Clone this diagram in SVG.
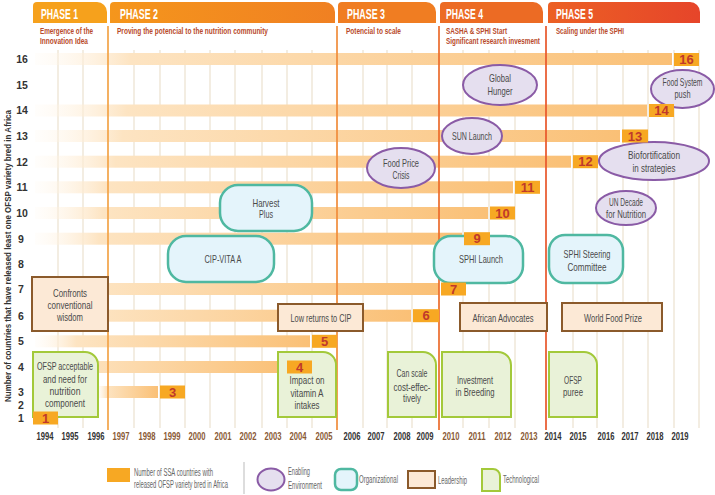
<svg xmlns="http://www.w3.org/2000/svg" width="715" height="495" viewBox="0 0 715 495">
<defs>
<style>
text{font-family:"Liberation Sans",Arial,sans-serif}
.ph{font-size:14px;font-weight:bold;fill:#fff}
.sub{font-size:9.5px;font-weight:bold;fill:#B84A2A}
.rn{font-size:10.5px;font-weight:bold;fill:#333;text-anchor:middle}
.yr{font-size:10.5px;font-weight:bold;text-anchor:middle}
.yd{fill:#333}
.yb{fill:#8A5A35}
.nt{font-size:11px;fill:#4a4a4a;text-anchor:middle}
.num{font-size:13px;font-weight:bold;fill:#C0392B;text-anchor:middle}
.nb{fill:#F7A823}
.bar{fill:url(#bg)}
.grid{stroke:#F0E7D9;stroke-width:1.5}
.lead{fill:#FCE9D6;stroke:#8B5A2B;stroke-width:2}
.tech{fill:#E9F2D8;stroke:#A3C93A;stroke-width:2}
.org{fill:#E4F4FB;stroke:#4FB8A1;stroke-width:2.5}
.env{fill:#E5DFEF;stroke:#8A5BA6;stroke-width:2}
.lg{font-size:10px;fill:#666}
</style>
<linearGradient id="bg" x1="0" y1="0" x2="1" y2="0">
<stop offset="0" stop-color="#FFF8EE" stop-opacity="0.2"/>
<stop offset="0.15" stop-color="#FDE4C2"/>
<stop offset="1" stop-color="#FAC076"/>
</linearGradient>
<linearGradient id="p2" x1="0" y1="0" x2="1" y2="0">
<stop offset="0" stop-color="#F5961C"/>
<stop offset="1" stop-color="#F08022"/>
</linearGradient>
<linearGradient id="p5" x1="0" y1="0" x2="1" y2="0">
<stop offset="0" stop-color="#EC6024"/>
<stop offset="1" stop-color="#E6452A"/>
</linearGradient>
</defs>
<rect width="715" height="495" fill="#fff"/>

<!-- phase headers -->
<g id="headers">
<path d="M33 23 V6 A4 4 0 0 1 37 2 H97 A10 10 0 0 1 107 12 V23 Z" fill="#F6A11C"/>
<path d="M110 23 V6 A4 4 0 0 1 114 2 H325 A10 10 0 0 1 335 12 V23 Z" fill="url(#p2)"/>
<path d="M338 23 V6 A4 4 0 0 1 342 2 H426 A10 10 0 0 1 436 12 V23 Z" fill="#F07D22"/>
<path d="M440 23 V6 A4 4 0 0 1 444 2 H533 A10 10 0 0 1 543 12 V23 Z" fill="#EC6B24"/>
<path d="M548 23 V6 A4 4 0 0 1 552 2 H690 A10 10 0 0 1 700 12 V23 Z" fill="url(#p5)"/>
<text class="ph" x="41" y="18.5" textLength="37" lengthAdjust="spacingAndGlyphs">PHASE 1</text>
<text class="ph" x="120" y="18.5" textLength="38" lengthAdjust="spacingAndGlyphs">PHASE 2</text>
<text class="ph" x="347" y="18.5" textLength="38" lengthAdjust="spacingAndGlyphs">PHASE 3</text>
<text class="ph" x="446" y="18.5" textLength="37" lengthAdjust="spacingAndGlyphs">PHASE 4</text>
<text class="ph" x="556" y="18.5" textLength="37" lengthAdjust="spacingAndGlyphs">PHASE 5</text>
<text class="sub" x="40" y="34" textLength="53" lengthAdjust="spacingAndGlyphs">Emergence of the</text>
<text class="sub" x="40" y="43.5" textLength="48" lengthAdjust="spacingAndGlyphs">Innovation Idea</text>
<text class="sub" x="117" y="34" textLength="151" lengthAdjust="spacingAndGlyphs">Proving the potencial to the nutrition community</text>
<text class="sub" x="346" y="34" textLength="55" lengthAdjust="spacingAndGlyphs">Potencial to scale</text>
<text class="sub" x="446" y="34" textLength="61" lengthAdjust="spacingAndGlyphs">SASHA &amp; SPHI Start</text>
<text class="sub" x="446" y="44" textLength="94" lengthAdjust="spacingAndGlyphs">Significant research invesment</text>
<text class="sub" x="556" y="34" textLength="68" lengthAdjust="spacingAndGlyphs">Scaling under the SPHI</text>
</g>

<!-- grid -->
<g id="grid">
<path class="grid" d="M58 50V428M83 50V428M134 50V428M160 50V428M185 50V428M210 50V428M235 50V428M262 50V428M287 50V428M312 50V428M363 50V428M387 50V428M412 50V428M463 50V428M489 50V428M515 50V428M573 50V428M597 50V428M623 50V428M648 50V428M674 50V428M699 50V428"/>
</g>

<!-- bars -->
<g id="bars">
<rect class="bar" x="35" y="53" width="637" height="12"/>
<rect class="bar" x="35" y="104.5" width="612" height="12"/>
<rect class="bar" x="35" y="130" width="585" height="12"/>
<rect class="bar" x="35" y="155.7" width="536" height="12"/>
<rect class="bar" x="35" y="181.3" width="478" height="12"/>
<rect class="bar" x="35" y="207" width="453" height="12"/>
<rect class="bar" x="35" y="232.7" width="427" height="12"/>
<rect class="bar" x="35" y="283" width="404" height="12"/>
<rect class="bar" x="35" y="309.7" width="376" height="12"/>
<rect class="bar" x="35" y="335.3" width="275" height="12"/>
<rect class="bar" x="35" y="361" width="250" height="12"/>
<rect class="bar" x="97" y="386" width="61" height="12"/>
</g>

<!-- phase lines -->
<g id="phase-lines" stroke-width="1.7">
<line x1="108" y1="26" x2="108" y2="430" stroke="#F3A347"/>
<line x1="337" y1="26" x2="337" y2="430" stroke="#F08C3A"/>
<line x1="439" y1="26" x2="439" y2="430" stroke="#EB6B2B"/>
<line x1="546" y1="26" x2="546" y2="430" stroke="#E8562A"/>
</g>

<!-- axis -->
<g id="axis">
<text class="rn" x="22" y="63">16</text>
<text class="rn" x="22" y="88.5">15</text>
<text class="rn" x="22" y="114.3">14</text>
<text class="rn" x="22" y="140">13</text>
<text class="rn" x="22" y="165.7">12</text>
<text class="rn" x="22" y="191.3">11</text>
<text class="rn" x="22" y="217">10</text>
<text class="rn" x="21" y="242.7">9</text>
<text class="rn" x="21" y="268">8</text>
<text class="rn" x="21" y="293">7</text>
<text class="rn" x="21" y="319.7">6</text>
<text class="rn" x="21" y="345.3">5</text>
<text class="rn" x="21" y="371">4</text>
<text class="rn" x="21" y="396">3</text>
<text class="rn" x="21" y="409">2</text>
<text class="rn" x="21" y="421.5">1</text>
<text transform="translate(10.5,256) rotate(-90)" text-anchor="middle" font-size="9.5" font-weight="bold" fill="#333" textLength="292" lengthAdjust="spacingAndGlyphs">Number of countries that have released least one OFSP variety bred in Africa</text>
<g class="yr">
<text class="yd" x="45" y="440" textLength="17" lengthAdjust="spacingAndGlyphs">1994</text>
<text class="yd" x="70" y="440" textLength="17" lengthAdjust="spacingAndGlyphs">1995</text>
<text class="yd" x="96" y="440" textLength="17" lengthAdjust="spacingAndGlyphs">1996</text>
<text class="yb" x="121" y="440" textLength="17" lengthAdjust="spacingAndGlyphs">1997</text>
<text class="yb" x="147" y="440" textLength="17" lengthAdjust="spacingAndGlyphs">1998</text>
<text class="yb" x="172" y="440" textLength="17" lengthAdjust="spacingAndGlyphs">1999</text>
<text class="yb" x="197" y="440" textLength="17" lengthAdjust="spacingAndGlyphs">2000</text>
<text class="yb" x="223" y="440" textLength="17" lengthAdjust="spacingAndGlyphs">2001</text>
<text class="yb" x="248" y="440" textLength="17" lengthAdjust="spacingAndGlyphs">2002</text>
<text class="yb" x="273" y="440" textLength="17" lengthAdjust="spacingAndGlyphs">2003</text>
<text class="yb" x="298" y="440" textLength="17" lengthAdjust="spacingAndGlyphs">2004</text>
<text class="yb" x="324" y="440" textLength="17" lengthAdjust="spacingAndGlyphs">2005</text>
<text class="yd" x="352" y="440" textLength="17" lengthAdjust="spacingAndGlyphs">2006</text>
<text class="yd" x="376" y="440" textLength="17" lengthAdjust="spacingAndGlyphs">2007</text>
<text class="yd" x="402" y="440" textLength="17" lengthAdjust="spacingAndGlyphs">2008</text>
<text class="yd" x="425" y="440" textLength="17" lengthAdjust="spacingAndGlyphs">2009</text>
<text class="yb" x="451" y="440" textLength="17" lengthAdjust="spacingAndGlyphs">2010</text>
<text class="yb" x="477" y="440" textLength="17" lengthAdjust="spacingAndGlyphs">2011</text>
<text class="yb" x="503" y="440" textLength="17" lengthAdjust="spacingAndGlyphs">2012</text>
<text class="yb" x="529" y="440" textLength="17" lengthAdjust="spacingAndGlyphs">2013</text>
<text class="yd" x="553" y="440" textLength="17" lengthAdjust="spacingAndGlyphs">2014</text>
<text class="yd" x="578" y="440" textLength="17" lengthAdjust="spacingAndGlyphs">2015</text>
<text class="yd" x="606" y="440" textLength="17" lengthAdjust="spacingAndGlyphs">2016</text>
<text class="yd" x="630" y="440" textLength="17" lengthAdjust="spacingAndGlyphs">2017</text>
<text class="yd" x="655" y="440" textLength="17" lengthAdjust="spacingAndGlyphs">2018</text>
<text class="yd" x="680" y="440" textLength="17" lengthAdjust="spacingAndGlyphs">2019</text>
</g>
</g>

<!-- connectors (none in this chart) -->
<g id="connectors"/>

<!-- Leadership nodes -->
<g id="confronts">
<rect class="lead" x="32" y="277" width="76" height="54"/>
<text class="nt" x="70" y="297" textLength="34" lengthAdjust="spacingAndGlyphs">Confronts</text>
<text class="nt" x="70" y="309" textLength="45" lengthAdjust="spacingAndGlyphs">conventional</text>
<text class="nt" x="70" y="321" textLength="26" lengthAdjust="spacingAndGlyphs">wisdom</text>
</g>
<g id="low-returns">
<rect class="lead" x="278" y="304" width="85" height="27"/>
<text class="nt" x="321" y="321.5" textLength="61" lengthAdjust="spacingAndGlyphs">Low returns to CIP</text>
</g>
<g id="african-advocates">
<rect class="lead" x="460" y="303" width="87" height="28"/>
<text class="nt" x="503" y="321.5" textLength="61" lengthAdjust="spacingAndGlyphs">African Advocates</text>
</g>
<g id="world-food-prize">
<rect class="lead" x="562" y="303" width="100" height="28"/>
<text class="nt" x="613" y="321.5" textLength="58" lengthAdjust="spacingAndGlyphs">World Food Prize</text>
</g>

<!-- Technological nodes -->
<g id="ofsp-acceptable">
<path class="tech" d="M33 352 H85 A13 13 0 0 1 98 365 V417 H33 Z"/>
<text class="nt" x="65" y="370" textLength="56" lengthAdjust="spacingAndGlyphs">OFSP acceptable</text>
<text class="nt" x="65" y="382.5" textLength="44" lengthAdjust="spacingAndGlyphs">and need for</text>
<text class="nt" x="65" y="395" textLength="31" lengthAdjust="spacingAndGlyphs">nutrition</text>
<text class="nt" x="65" y="407" textLength="40" lengthAdjust="spacingAndGlyphs">component</text>
</g>
<g id="impact-vitamin-a">
<path class="tech" d="M278 352 H323 A13 13 0 0 1 336 365 V417 H278 Z"/>
<text class="nt" x="307" y="384" textLength="35" lengthAdjust="spacingAndGlyphs">Impact on</text>
<text class="nt" x="307" y="396.5" textLength="33" lengthAdjust="spacingAndGlyphs">vitamin A</text>
<text class="nt" x="307" y="408.5" textLength="25" lengthAdjust="spacingAndGlyphs">intakes</text>
</g>
<g id="can-scale">
<path class="tech" d="M388 352 H423 A13 13 0 0 1 436 365 V417 H388 Z"/>
<text class="nt" x="412" y="377" textLength="31" lengthAdjust="spacingAndGlyphs">Can scale</text>
<text class="nt" x="412" y="390.5" textLength="37" lengthAdjust="spacingAndGlyphs">cost-effec-</text>
<text class="nt" x="412" y="402" textLength="18" lengthAdjust="spacingAndGlyphs">tively</text>
</g>
<g id="investment-breeding">
<path class="tech" d="M442 352 H498 A13 13 0 0 1 511 365 V417 H442 Z"/>
<text class="nt" x="475" y="384" textLength="36" lengthAdjust="spacingAndGlyphs">Investment</text>
<text class="nt" x="475" y="396" textLength="39" lengthAdjust="spacingAndGlyphs">in Breeding</text>
</g>
<g id="ofsp-puree">
<path class="tech" d="M549 352 H584 A13 13 0 0 1 597 365 V417 H549 Z"/>
<text class="nt" x="573" y="384" textLength="18" lengthAdjust="spacingAndGlyphs">OFSP</text>
<text class="nt" x="573" y="396" textLength="20" lengthAdjust="spacingAndGlyphs">puree</text>
</g>

<!-- Organizational nodes -->
<g id="harvest-plus">
<rect class="org" x="220" y="185" width="92" height="46" rx="18"/>
<text class="nt" x="266" y="207" textLength="27" lengthAdjust="spacingAndGlyphs">Harvest</text>
<text class="nt" x="266" y="218" textLength="14" lengthAdjust="spacingAndGlyphs">Plus</text>
</g>
<g id="cip-vita-a">
<rect class="org" x="168" y="236" width="106" height="46" rx="18"/>
<text class="nt" x="223" y="263" textLength="37" lengthAdjust="spacingAndGlyphs">CIP-VITA A</text>
</g>
<g id="sphi-launch">
<rect class="org" x="434" y="236" width="89" height="47" rx="17"/>
<text class="nt" x="481" y="263" textLength="44" lengthAdjust="spacingAndGlyphs">SPHI  Launch</text>
</g>
<g id="sphi-steering">
<rect class="org" x="549" y="235" width="74" height="48" rx="16"/>
<text class="nt" x="587" y="258" textLength="47" lengthAdjust="spacingAndGlyphs">SPHI Steering</text>
<text class="nt" x="587" y="271" textLength="39" lengthAdjust="spacingAndGlyphs">Committee</text>
</g>

<!-- Enabling environment nodes -->
<g id="global-hunger">
<ellipse class="env" cx="500" cy="85" rx="37" ry="20"/>
<text class="nt" x="500" y="82" textLength="22" lengthAdjust="spacingAndGlyphs">Global</text>
<text class="nt" x="500" y="94.5" textLength="25" lengthAdjust="spacingAndGlyphs">Hunger</text>
</g>
<g id="food-system-push">
<ellipse class="env" cx="682.5" cy="89" rx="31.5" ry="19"/>
<text class="nt" x="682.5" y="86" font-size="10" textLength="40" lengthAdjust="spacingAndGlyphs">Food System</text>
<text class="nt" x="682.5" y="98" font-size="10" textLength="16" lengthAdjust="spacingAndGlyphs">push</text>
</g>
<g id="sun-launch">
<ellipse class="env" cx="472" cy="136" rx="30" ry="18"/>
<text class="nt" x="472" y="140" textLength="40" lengthAdjust="spacingAndGlyphs">SUN Launch</text>
</g>
<g id="biofortification">
<ellipse class="env" cx="654" cy="161" rx="55" ry="19"/>
<text class="nt" x="654" y="159" textLength="52" lengthAdjust="spacingAndGlyphs">Biofortification</text>
<text class="nt" x="654" y="171.5" textLength="43" lengthAdjust="spacingAndGlyphs">in strategies</text>
</g>
<g id="food-price-crisis">
<ellipse class="env" cx="401" cy="168" rx="34" ry="20"/>
<text class="nt" x="401" y="167" textLength="36" lengthAdjust="spacingAndGlyphs">Food Price</text>
<text class="nt" x="401" y="178.5" textLength="17" lengthAdjust="spacingAndGlyphs">Crisis</text>
</g>
<g id="un-decade">
<ellipse class="env" cx="626" cy="208" rx="30" ry="17"/>
<text class="nt" x="626" y="205.5" textLength="34" lengthAdjust="spacingAndGlyphs">UN Decade</text>
<text class="nt" x="626" y="217.5" textLength="40" lengthAdjust="spacingAndGlyphs">for Nutrition</text>
</g>

<!-- count boxes -->
<g id="counts">
<rect class="nb" x="674" y="53" width="25" height="13"/><text class="num" x="686.5" y="64">16</text>
<rect class="nb" x="649" y="104" width="25" height="13"/><text class="num" x="661.5" y="115">14</text>
<rect class="nb" x="622" y="129.5" width="26" height="13"/><text class="num" x="635" y="140.5">13</text>
<rect class="nb" x="573" y="155.2" width="25" height="13"/><text class="num" x="585.5" y="166.2">12</text>
<rect class="nb" x="515" y="180.8" width="25" height="13"/><text class="num" x="527.5" y="191.8">11</text>
<rect class="nb" x="490" y="206.5" width="25" height="13"/><text class="num" x="502.5" y="217.5">10</text>
<rect class="nb" x="464" y="232.2" width="26" height="13"/><text class="num" x="477" y="243.2">9</text>
<rect class="nb" x="441" y="282.5" width="25" height="13"/><text class="num" x="453.5" y="293.5">7</text>
<rect class="nb" x="413" y="309.2" width="26" height="13"/><text class="num" x="426" y="320.2">6</text>
<rect class="nb" x="312" y="334.8" width="25" height="13"/><text class="num" x="324.5" y="345.8">5</text>
<rect class="nb" x="287" y="360.5" width="25" height="13"/><text class="num" x="299.5" y="371.5">4</text>
<rect class="nb" x="160" y="385.5" width="25" height="13"/><text class="num" x="172.5" y="396.5">3</text>
<rect class="nb" x="33" y="411.5" width="25" height="13"/><text class="num" x="45.5" y="422.5">1</text>
</g>

<!-- legend -->
<g id="legend">
<rect x="107" y="468" width="23" height="14" fill="#F7A823"/>
<text class="lg" x="134" y="476" textLength="79" lengthAdjust="spacingAndGlyphs">Number of SSA countries with</text>
<text class="lg" x="134" y="488" textLength="94" lengthAdjust="spacingAndGlyphs">released OFSP variety bred in Africa</text>
<line x1="244" y1="462" x2="244" y2="494" stroke="#bbb" stroke-width="1"/>
<ellipse class="env" cx="271" cy="479.5" rx="13.5" ry="11"/>
<text class="lg" x="288" y="475" font-size="9.5" textLength="22" lengthAdjust="spacingAndGlyphs">Enabling</text>
<text class="lg" x="288" y="488.5" font-size="9.5" textLength="34" lengthAdjust="spacingAndGlyphs">Environment</text>
<rect class="org" x="335" y="469" width="22" height="21" rx="6" stroke-width="2"/>
<text class="lg" x="359" y="483" textLength="39" lengthAdjust="spacingAndGlyphs">Organizational</text>
<rect class="lead" x="408" y="471" width="27" height="17"/>
<text class="lg" x="438" y="483.5" textLength="29" lengthAdjust="spacingAndGlyphs">Leadership</text>
<path class="tech" d="M482 469 H493 A7 7 0 0 1 500 476 V491 H482 Z"/>
<text class="lg" x="503" y="483" textLength="36" lengthAdjust="spacingAndGlyphs">Technological</text>
</g>
</svg>
